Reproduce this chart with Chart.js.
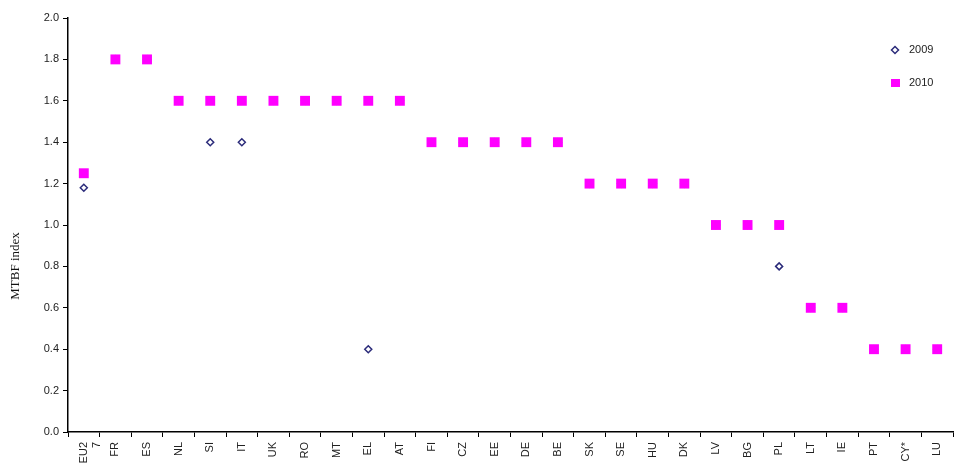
<!DOCTYPE html>
<html>
<head>
<meta charset="utf-8">
<script src="https://cdn.jsdelivr.net/npm/chart.js@4"></script>
<style>
  html, body { margin: 0; padding: 0; background: #fff; }
  #wrap { width: 960px; height: 466px; position: relative; }
</style>
</head>
<body>
<div id="wrap"><canvas id="mtbfChart"></canvas></div>
<script>
const countries = [['EU2', '7'], 'FR', 'ES', 'NL', 'SI', 'IT', 'UK', 'RO', 'MT', 'EL', 'AT',
  'FI', 'CZ', 'EE', 'DE', 'BE', 'SK', 'SE', 'HU', 'DK', 'LV', 'BG', 'PL', 'LT', 'IE', 'PT', 'CY*', 'LU'];
const values2009 = [1.18, 1.8, 1.8, 1.6, 1.4, 1.4, 1.6, 1.6, 1.6, 0.4, 1.6,
  1.4, 1.4, 1.4, 1.4, 1.4, 1.2, 1.2, 1.2, 1.2, 1.0, 1.0, 0.8, 0.6, 0.6, 0.4, 0.4, 0.4];
const values2010 = [1.25, 1.8, 1.8, 1.6, 1.6, 1.6, 1.6, 1.6, 1.6, 1.6, 1.6,
  1.4, 1.4, 1.4, 1.4, 1.4, 1.2, 1.2, 1.2, 1.2, 1.0, 1.0, 1.0, 0.6, 0.6, 0.4, 0.4, 0.4];
const yTicks = [0, 0.2, 0.4, 0.6, 0.8, 1.0, 1.2, 1.4, 1.6, 1.8, 2.0];

const NAVY = '#2b2b7a';
const MAGENTA = '#ff00ff';

// y axis title + legend drawn by hand so they sit where the original has them
const extras = {
  id: 'extras',
  afterDraw(chart) {
    const ctx = chart.ctx;
    ctx.save();
    ctx.fillStyle = '#111';
    ctx.font = '13px "Liberation Serif", serif';
    ctx.translate(16, 266);
    ctx.rotate(-Math.PI / 2);
    ctx.textAlign = 'center';
    ctx.textBaseline = 'middle';
    ctx.fillText('MTBF index', 0, 0);
    ctx.restore();

    ctx.save();
    // 2009
    ctx.strokeStyle = NAVY;
    ctx.fillStyle = '#fff';
    ctx.lineWidth = 1.5;
    ctx.beginPath();
    ctx.moveTo(895, 46.5); ctx.lineTo(898.5, 50); ctx.lineTo(895, 53.5); ctx.lineTo(891.5, 50);
    ctx.closePath();
    ctx.fill(); ctx.stroke();
    // 2010
    ctx.fillStyle = MAGENTA;
    ctx.fillRect(891, 79, 9, 8);
    ctx.fillStyle = '#222';
    ctx.font = '11px "Liberation Sans", Arial, sans-serif';
    ctx.textBaseline = 'middle';
    ctx.fillText('2009', 909, 50);
    ctx.fillText('2010', 909, 83);
    ctx.restore();
  }
};

const ctx = document.getElementById('mtbfChart').getContext('2d');
new Chart(ctx, {
  type: 'line',
  data: {
    labels: countries,
    datasets: [
      {
        label: '2009',
        data: values2009,
        showLine: false,
        pointStyle: 'rectRot',
        pointRadius: 3.5,
        pointBorderWidth: 1.5,
        pointBackgroundColor: '#fff',
        pointBorderColor: NAVY,
        order: 2
      },
      {
        label: '2010',
        data: values2010,
        showLine: false,
        pointStyle: 'rect',
        pointRadius: 7,
        pointBorderWidth: 0,
        pointBackgroundColor: MAGENTA,
        pointBorderColor: MAGENTA,
        order: 1
      }
    ]
  },
  options: {
    responsive: true,
    maintainAspectRatio: false,
    animation: false,
    layout: { padding: { top: 18, right: 0, left: 0, bottom: 0 } },
    plugins: {
      legend: { display: false },
      tooltip: { enabled: false }
    },
    scales: {
      x: {
        offset: true,
        afterFit(scale) { scale.height = 34; },
        border: { color: '#000', width: 1.5 },
        grid: {
          offset: true,
          drawOnChartArea: false,
          drawTicks: true,
          tickLength: 5,
          color: '#000'
        },
        ticks: {
          autoSkip: false,
          minRotation: 90,
          maxRotation: 90,
          padding: 5,
          color: '#222',
          font: { family: '"Liberation Sans", Arial, sans-serif', size: 11 }
        }
      },
      y: {
        min: 0,
        max: 2.0,
        afterFit(scale) { scale.width = 68; },
        afterBuildTicks(scale) { scale.ticks = yTicks.map(v => ({ value: v })); },
        border: { color: '#000', width: 1.5 },
        grid: {
          drawOnChartArea: false,
          drawTicks: true,
          tickLength: 5,
          color: '#000'
        },
        ticks: {
          padding: 4,
          color: '#222',
          font: { family: '"Liberation Sans", Arial, sans-serif', size: 11 },
          callback: v => v.toFixed(1)
        }
      }
    }
  },
  plugins: [extras]
});
</script>
</body>
</html>
